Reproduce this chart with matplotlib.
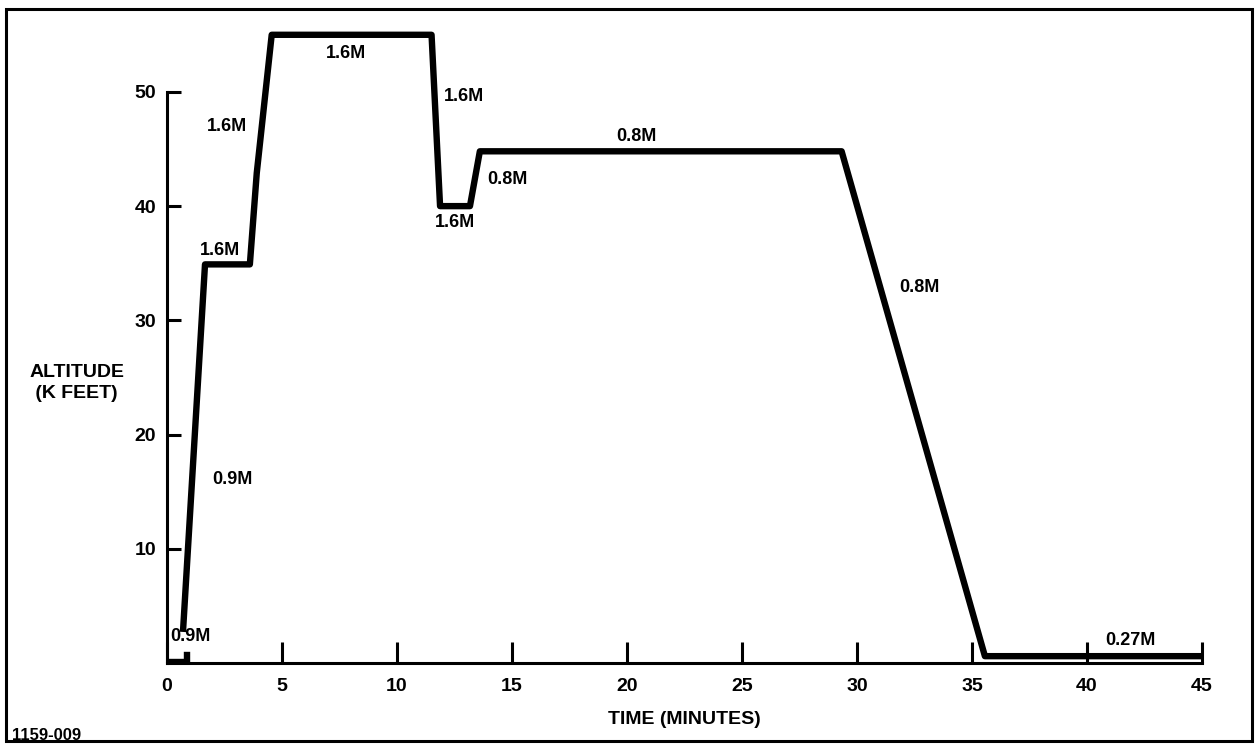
import matplotlib.pyplot as plt
from matplotlib.patches import Rectangle

plt.rcParams['font.family'] = ['Liberation Sans', 'DejaVu Sans']

# flight profile (minutes, thousand feet)
taxi_time = [0.0, 0.85, 0.85]
taxi_alt = [0.1, 0.1, 0.7]
time_min = [0.7, 1.65, 3.6, 3.9, 4.55, 11.5, 11.87, 13.17, 13.6, 29.33, 35.56, 45.0]
alt_kft = [3.0, 34.9, 34.9, 42.9, 55.0, 55.0, 40.0, 40.0, 44.8, 44.8, 0.6, 0.6]

# mach number labels
mach_labels = ['0.9M', '0.9M', '1.6M', '1.6M', '1.6M', '1.6M', '1.6M',
               '0.8M', '0.8M', '0.8M', '0.27M']
label_t = [1.0, 2.85, 2.3, 2.6, 7.8, 12.9, 12.5, 14.8, 20.4, 32.7, 41.9]
label_alt = [2.3, 16.1, 36.1, 47.0, 53.4, 49.6, 38.6, 42.3, 46.1, 32.9, 2.0]

x_ticks = [0, 5, 10, 15, 20, 25, 30, 35, 40, 45]
y_ticks = [10, 20, 30, 40, 50]

fig = plt.figure(figsize=(12.58, 7.49), dpi=100)
ax = fig.add_axes([0.1328, 0.1148, 0.8227, 0.854])

ax.plot(taxi_time, taxi_alt, color='black', lw=4.6, solid_joinstyle='miter')
ax.plot(time_min, alt_kft, color='black', lw=4.6, solid_joinstyle='round')

for lab, t, a in zip(mach_labels, label_t, label_alt):
    ax.text(t, a, lab, ha='center', va='center', fontsize=13, fontweight='bold')

ax.set_xlim(0, 45)
ax.set_ylim(0, 56)
ax.set_xticks(x_ticks)
ax.set_yticks(y_ticks)
ax.tick_params(axis='x', direction='in', length=15, width=2.2, pad=11,
               labelsize=14)
ax.tick_params(axis='y', direction='in', length=10, width=2.2, pad=8,
               labelsize=14)
for lbl in ax.get_xticklabels() + ax.get_yticklabels():
    lbl.set_fontweight('bold')

for s in ['top', 'right']:
    ax.spines[s].set_visible(False)
ax.spines['left'].set_linewidth(2.2)
ax.spines['bottom'].set_linewidth(2.2)
ax.spines['left'].set_bounds(0, 50)

fig.text(30 / 1258, 1 - 383 / 749, 'ALTITUDE\n (K FEET)', ha='left', va='center',
         fontsize=14, fontweight='semibold', linespacing=1.25)
fig.text(684 / 1258, 1 - 719 / 749, 'TIME (MINUTES)', ha='center', va='center',
         fontsize=14, fontweight='bold')
fig.text(12 / 1258, 1 - 735 / 749, '1159-009', ha='left', va='center',
         fontsize=12, fontweight='bold')

# frame around the whole figure
fig.patches.append(Rectangle((6 / 1258, 1 - 741 / 749), 1246 / 1258, 732 / 749,
                             transform=fig.transFigure, fill=False,
                             edgecolor='black', lw=2.2))

fig.savefig('out.png', dpi=100)
